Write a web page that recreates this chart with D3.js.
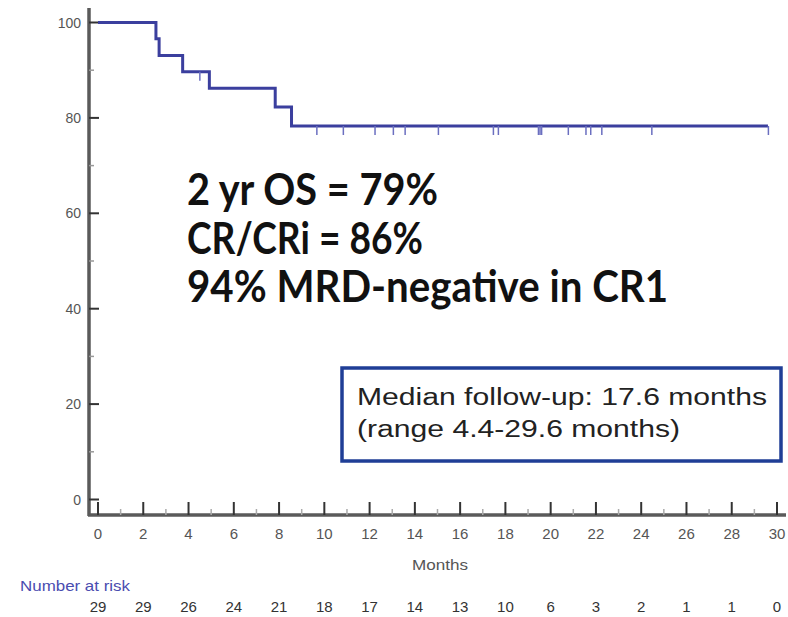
<!DOCTYPE html>
<html><head><meta charset="utf-8">
<script src="https://cdn.jsdelivr.net/npm/d3@7"></script>
<style>html,body{margin:0;padding:0;background:#fff;}</style>
</head><body>
<svg id="c" width="788" height="617"></svg>
<script>
// ---- data ----
const stepTimes = [0, 2.56, 2.7, 3.74, 4.92, 7.83, 8.55, 29.6];
const stepSurv  = [100, 96.6, 93.1, 89.7, 86.2, 82.3, 78.3, 78.3];
const censorTimes = [4.5, 9.67, 10.84, 12.24, 13.05, 13.57, 15.04, 17.47, 17.69, 19.46, 19.53, 19.6, 20.78, 21.56, 21.77, 22.26, 24.47, 29.62];
const xMajor = [0,2,4,6,8,10,12,14,16,18,20,22,24,26,28,30];
const xMinor = [1,3,5,7,9,11,13,15,17,19,21,23,25,27,29];
const yMajor = [0,20,40,60,80,100];
const yMinor = [10,30,50,70,90];
const riskTimes = [0,2,4,6,8,10,12,14,16,18,20,22,24,26,28,30];
const riskCounts = [29,29,26,24,21,18,17,14,13,10,6,3,2,1,1,0];
const statLines = ["2 yr OS = 79%", "CR/CRi = 86%", "94% MRD-negative in CR1"];
const boxLines = ["Median follow-up: 17.6 months", "(range 4.4-29.6 months)"];

// ---- scales ----
const svg = d3.select("#c");
const x = d3.scaleLinear().domain([0,30]).range([98,777]);
const y = d3.scaleLinear().domain([0,100]).range([499.5,22.5]);
const axisX = 89, axisY = 515;
const gray = "#5a5a5a";

// axes lines
svg.append("line").attr("x1",axisX).attr("x2",axisX).attr("y1",8).attr("y2",axisY+1)
  .attr("stroke",gray).attr("stroke-width",3.5);
svg.append("line").attr("x1",axisX-1).attr("x2",786).attr("y1",axisY).attr("y2",axisY)
  .attr("stroke",gray).attr("stroke-width",3.5);

// y ticks
svg.selectAll(".ymaj").data(yMajor).join("line")
  .attr("x1",axisX).attr("x2",axisX+10).attr("y1",d=>y(d)).attr("y2",d=>y(d))
  .attr("stroke","#333").attr("stroke-width",2);
svg.selectAll(".ymin").data(yMinor).join("line")
  .attr("x1",axisX).attr("x2",axisX+5).attr("y1",d=>y(d)).attr("y2",d=>y(d))
  .attr("stroke","#999").attr("stroke-width",1.5);
svg.selectAll(".ylab").data(yMajor).join("text")
  .attr("x",81).attr("y",d=>y(d)+5).attr("text-anchor","end")
  .attr("font-family","Liberation Sans, Arial, sans-serif").attr("font-size",14)
  .attr("fill","#555").text(d=>d);

// x ticks
svg.selectAll(".xmaj").data(xMajor).join("line")
  .attr("x1",d=>x(d)).attr("x2",d=>x(d)).attr("y1",axisY).attr("y2",axisY-13)
  .attr("stroke","#333").attr("stroke-width",2);
svg.selectAll(".xmin").data(xMinor).join("line")
  .attr("x1",d=>x(d)).attr("x2",d=>x(d)).attr("y1",axisY).attr("y2",axisY-6)
  .attr("stroke","#aaa").attr("stroke-width",1.5);
svg.selectAll(".xlab").data(xMajor).join("text")
  .attr("x",d=>x(d)).attr("y",539).attr("text-anchor","middle")
  .attr("font-family","Liberation Sans, Arial, sans-serif").attr("font-size",15)
  .attr("fill","#555").text(d=>d);
svg.append("text").attr("x",440).attr("y",570).attr("text-anchor","middle")
  .attr("font-family","Liberation Sans, Arial, sans-serif").attr("font-size",15)
  .attr("fill","#555").attr("textLength",56).attr("lengthAdjust","spacingAndGlyphs").text("Months");

// KM curve
const pts = stepTimes.map((t,i)=>[t,stepSurv[i]]);
const line = d3.line().x(d=>x(d[0])).y(d=>y(d[1])).curve(d3.curveStepAfter);
svg.append("path").attr("d",line(pts)).attr("fill","none")
  .attr("stroke","#3b3f9e").attr("stroke-width",3);

// censor marks
function survAt(t){ let s=stepSurv[0]; for(let i=0;i<stepTimes.length;i++){ if(stepTimes[i]<=t) s=stepSurv[i]; } return s; }
svg.selectAll(".cens").data(censorTimes).join("line")
  .attr("x1",d=>x(d)).attr("x2",d=>x(d)).attr("y1",d=>y(survAt(d))).attr("y2",d=>y(survAt(d))+9)
  .attr("stroke","#6b6fc0").attr("stroke-width",1.5);

// stats text
svg.selectAll(".stat").data(statLines).join("text")
  .attr("x",187).attr("y",(d,i)=>205+i*48.5)
  .attr("font-family","Lato, 'Open Sans', sans-serif").attr("font-weight","bold")
  .attr("font-size",43).attr("fill","#111")
  .attr("textLength",(d,i)=>[251,236,481][i]).attr("lengthAdjust","spacingAndGlyphs")
  .text(d=>d);

// box
svg.append("rect").attr("x",342).attr("y",368).attr("width",439).attr("height",93)
  .attr("fill","#fff").attr("stroke","#1f3e96").attr("stroke-width",3.5);
svg.selectAll(".box").data(boxLines).join("text")
  .attr("x",357).attr("y",(d,i)=>405+i*32)
  .attr("font-family","Liberation Sans, Arial, sans-serif").attr("font-size",23)
  .attr("fill","#222")
  .attr("textLength",(d,i)=>[410,323][i]).attr("lengthAdjust","spacingAndGlyphs")
  .text(d=>d);

// number at risk
svg.append("text").attr("x",20).attr("y",591)
  .attr("font-family","Liberation Sans, Arial, sans-serif").attr("font-size",15)
  .attr("fill","#4a4cb0").attr("textLength",110).attr("lengthAdjust","spacingAndGlyphs")
  .text("Number at risk");
svg.selectAll(".risk").data(riskCounts).join("text")
  .attr("x",(d,i)=>x(riskTimes[i])).attr("y",612).attr("text-anchor","middle")
  .attr("font-family","Liberation Sans, Arial, sans-serif").attr("font-size",15)
  .attr("fill","#333").text(d=>d);
</script>
</body></html>
